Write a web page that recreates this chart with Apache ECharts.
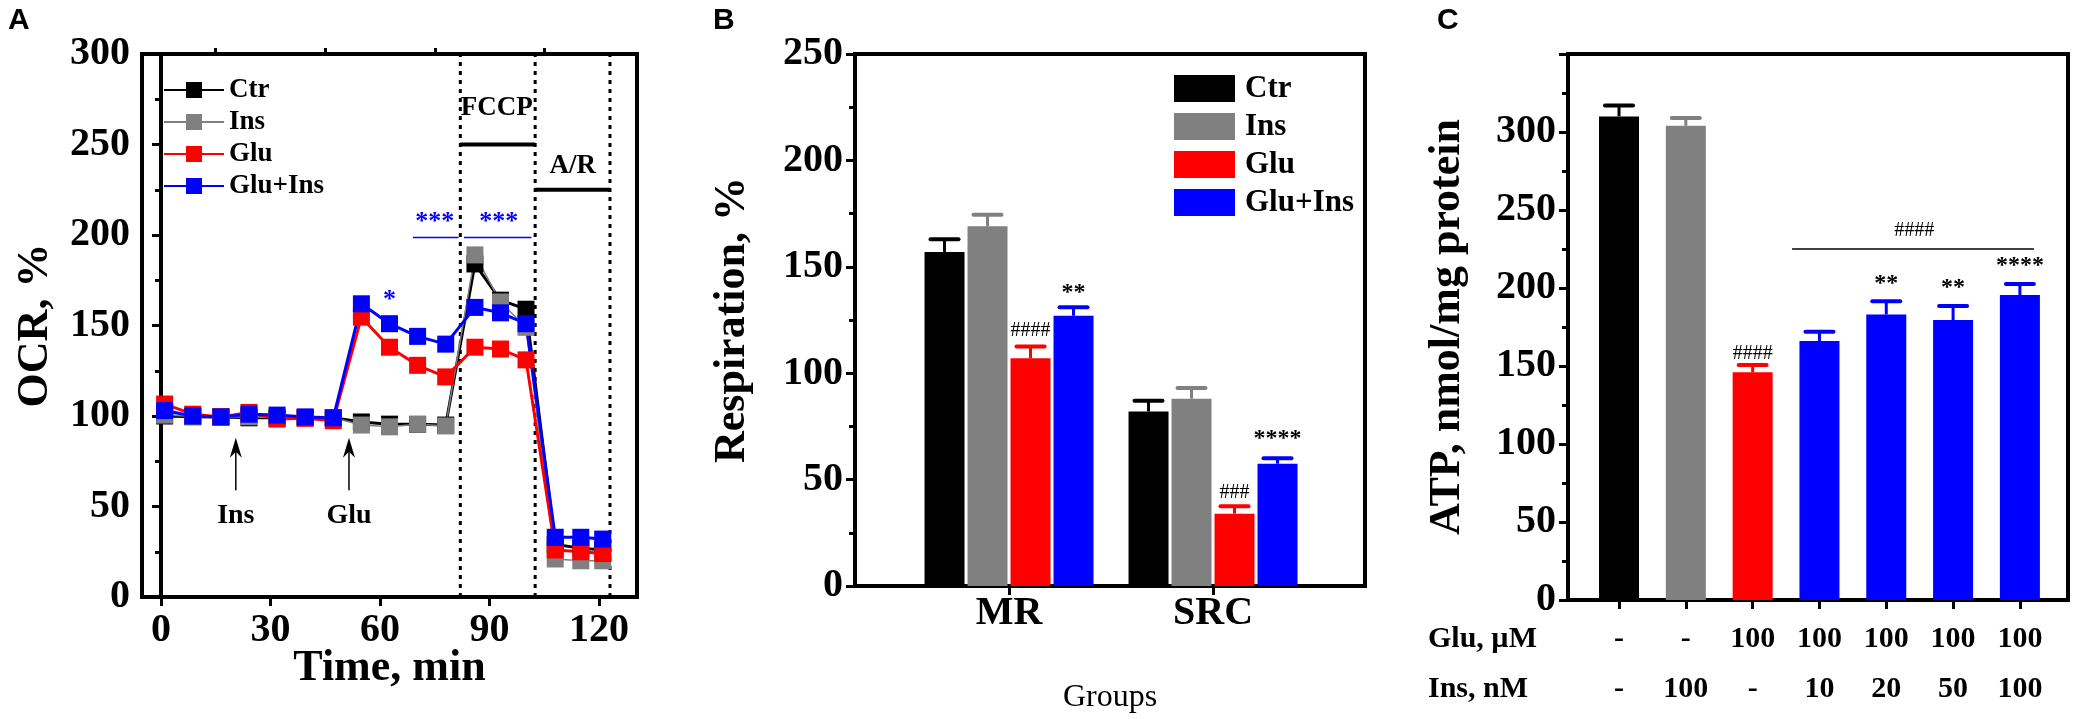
<!DOCTYPE html>
<html>
<head>
<meta charset="utf-8">
<script src="https://cdn.jsdelivr.net/npm/echarts@6/dist/echarts.min.js"></script>
</head>
<body style="margin:0;background:#fff">
<div id="main" style="width:2084px;height:719px;"></div>
<script>
// ---- panel A: OCR time course (% of baseline) ----
var timeMin  = [1, 8.7, 16.4, 24.1, 31.8, 39.5, 47.2, 54.9, 62.6, 70.3, 78, 86, 93, 100, 108, 115, 121];
var ocrCtr    = [100, 99.6, 99.5, 99, 99, 99.2, 99, 96.7, 95.5, 95.4, 95, 184, 164, 159, 29, 27, 26];
var ocrIns    = [100.5, 99.8, 99.5, 99.6, 99, 99, 99, 95, 94, 95.4, 94.5, 189, 163, 149, 21, 20, 20];
var ocrGlu    = [106.6, 101, 99.5, 102, 98.3, 98.7, 97.4, 154.6, 138, 128, 121.6, 138, 137, 131, 26, 25, 24];
var ocrGluIns = [103, 100, 99.5, 101, 100.5, 99.5, 99, 162, 151, 144, 139.7, 160, 157, 151, 33, 33, 32];
var timeTicks = [0, 30, 60, 90, 120];
var timeMinor = [15, 45, 75, 105];

// ---- panel B: respiration ----
var groups = ['MR', 'SRC'];
var resCtr = [157, 82],    errCtr = [6, 5];
var resIns = [169, 88],    errIns = [5.5, 5];
var resGlu = [107, 34],    errGlu = [5.5, 3.5];
var resGluIns = [127, 57.5], errGluIns = [4, 2.5];

// ---- panel C: ATP ----
var atpGlu = ['-', '-', '100', '100', '100', '100', '100'];
var atpIns = ['-', '100', '-', '10', '20', '50', '100'];
var atpVal = [310, 304, 146, 166, 183, 179.5, 195.5];
var atpErr = [7, 5, 4.7, 6, 8.5, 9, 7];

var SERIF = "'Liberation Serif', 'Times New Roman', serif";
var BLK = '#000000', GRY = '#808080', RED = '#ff0000', BLU = '#0000ff';
var colorsC = [BLK, GRY, RED, BLU, BLU, BLU, BLU];

var myChart = echarts.init(document.getElementById('main'));

function yAx(grid, max, name, gap) {
  return {
    type: 'value', gridIndex: grid, min: 0, max: max, interval: 50,
    axisLine: { show: true, lineStyle: { color: BLK, width: 4 } },
    axisTick: { show: true, length: 9, lineStyle: { color: BLK, width: 3 } },
    minorTick: { show: true, splitNumber: 2, length: 6, lineStyle: { color: BLK, width: 3 } },
    splitLine: { show: false },
    axisLabel: { color: BLK, fontFamily: SERIF, fontWeight: 'bold', fontSize: 40, margin: 12, showMaxLabel: max !== 350 },
    name: name, nameLocation: 'middle', nameGap: gap, nameMoveOverlap: false,
    nameTextStyle: { color: BLK, fontFamily: SERIF, fontWeight: 'bold', fontSize: 44 }
  };
}

// error bars (upward only)
function errSeries(xi, xs, tops, errs, color, offsetPx) {
  return {
    type: 'custom', xAxisIndex: xi, yAxisIndex: xi, z: 4, silent: true,
    data: xs.map(function (x, i) { return [x, tops[i], errs[i]]; }),
    renderItem: function (params, api) {
      var b = api.coord([api.value(0), api.value(1)]);
      var t = api.coord([api.value(0), api.value(1) + api.value(2)]);
      var x = b[0] + offsetPx;
      var c = typeof color === 'function' ? color(params.dataIndex) : color;
      return { type: 'group', children: [
        { type: 'line', shape: { x1: x, y1: b[1], x2: x, y2: t[1] }, style: { stroke: c, lineWidth: 3 } },
        { type: 'line', shape: { x1: x - 14, y1: t[1], x2: x + 14, y2: t[1] }, style: { stroke: c, lineWidth: 4, lineCap: 'round' } }
      ] };
    }
  };
}

// text annotations: [x, y, text, color, size, weight, offsetPx]
function textSeries(xi, items) {
  return {
    type: 'custom', xAxisIndex: xi, yAxisIndex: xi, z: 5, silent: true,
    data: items.map(function (a) { return [a[0], a[1]]; }),
    renderItem: function (params, api) {
      var a = items[params.dataIndex];
      var p = api.coord([api.value(0), api.value(1)]);
      return { type: 'text', x: p[0] + (a[6] || 0), y: p[1], style: {
        text: a[2], fill: a[3], font: (a[5] || 'bold') + ' ' + a[4] + 'px ' + SERIF,
        align: 'center', verticalAlign: 'middle' } };
    }
  };
}

// line segments: [x1, y1, x2, y2, kind]
function segSeries(xi, segs) {
  return {
    type: 'custom', xAxisIndex: xi, yAxisIndex: xi, z: 1, silent: true,
    data: segs.map(function (s) { return [s[0], s[1], s[2], s[3]]; }),
    encode: { x: [0, 2], y: [1, 3] },
    renderItem: function (params, api) {
      var s = segs[params.dataIndex];
      var p1 = api.coord([s[0], s[1]]), p2 = api.coord([s[2], s[3]]);
      var kind = s[4];
      if (kind === 'dot') {
        return { type: 'line', shape: { x1: p1[0], y1: p1[1], x2: p2[0], y2: p2[1] },
          style: { stroke: BLK, lineWidth: 3, lineDash: [4, 5] } };
      }
      if (kind === 'bar') {
        return { type: 'line', shape: { x1: p1[0], y1: p1[1], x2: p2[0], y2: p2[1] },
          style: { stroke: BLK, lineWidth: 4 } };
      }
      if (kind === 'blue') {
        return { type: 'line', shape: { x1: p1[0], y1: p1[1], x2: p2[0], y2: p2[1] },
          style: { stroke: BLU, lineWidth: 1.5 } };
      }
      if (kind === 'thin') {
        return { type: 'line', shape: { x1: p1[0], y1: p1[1], x2: p2[0], y2: p2[1] },
          style: { stroke: BLK, lineWidth: 1.5 } };
      }
      // arrow pointing up to p2
      var x = p2[0], y = p2[1];
      return { type: 'group', children: [
        { type: 'line', shape: { x1: p1[0], y1: p1[1], x2: x, y2: y + 10 }, style: { stroke: BLK, lineWidth: 1.5 } },
        { type: 'polygon', shape: { points: [[x, y], [x - 6, y + 20], [x, y + 14], [x + 6, y + 20]] }, style: { fill: BLK } }
      ] };
    }
  };
}

function lineS(name, data, color, width) {
  return {
    name: name, type: 'line', xAxisIndex: 0, yAxisIndex: 0,
    data: timeMin.map(function (t, i) { return [t, data[i]]; }),
    symbol: 'rect', symbolSize: 17, showAllSymbol: true,
    itemStyle: { color: color }, lineStyle: { color: color, width: width }
  };
}

function barS(name, vals, color) {
  return {
    name: 'B:' + name, type: 'bar', xAxisIndex: 1, yAxisIndex: 1,
    data: vals.map(function (v, i) { return [i + 1, v]; }),
    barWidth: 40, barGap: '7.5%', itemStyle: { color: color }
  };
}

var offB = [-64.5, -21.5, 21.5, 64.5];
var xsB = [1, 2];

var option = {
  animation: false,
  backgroundColor: '#fff',
  grid: [
    { left: 142, top: 54, width: 495, height: 543, show: true, borderColor: BLK, borderWidth: 4 },
    { left: 855, top: 54, width: 510, height: 543, show: true, borderColor: BLK, borderWidth: 4 },
    { left: 1568, top: 54, width: 500, height: 546, show: true, borderColor: BLK, borderWidth: 4 }
  ],
  legend: [
    {
      data: ['Ctr', 'Ins', 'Glu', 'Glu+Ins'], orient: 'vertical', left: 158, top: 71,
      itemWidth: 60, itemHeight: 20, itemGap: 4,
      textStyle: { color: BLK, fontFamily: SERIF, fontWeight: 'bold', fontSize: 27, lineHeight: 28 }
    },
    {
      data: ['B:Ctr', 'B:Ins', 'B:Glu', 'B:Glu+Ins'], orient: 'vertical', left: 1169, top: 68,
      itemWidth: 61, itemHeight: 27, itemGap: 7, icon: 'rect',
      formatter: function (n) { return n.replace('B:', ''); },
      textStyle: { color: BLK, fontFamily: SERIF, fontWeight: 'bold', fontSize: 31, lineHeight: 31, padding: [0, 0, 0, 5] }
    }
  ],
  xAxis: [
    {
      type: 'value', gridIndex: 0, min: -5.2, max: 130.4,
      axisLine: { show: true, lineStyle: { color: BLK, width: 4 } },
      axisTick: { show: true, customValues: timeTicks, length: 9, lineStyle: { color: BLK, width: 3 } },
      axisLabel: { customValues: timeTicks, color: BLK, fontFamily: SERIF, fontWeight: 'bold', fontSize: 40, margin: 14 },
      splitLine: { show: false },
      name: 'Time, min', nameLocation: 'middle', nameGap: 50, nameMoveOverlap: false,
      nameTextStyle: { color: BLK, fontFamily: SERIF, fontWeight: 'bold', fontSize: 44, verticalAlign: 'top' }
    },
    {
      type: 'value', gridIndex: 1, min: 0.245, max: 2.745,
      axisLine: { show: true, lineStyle: { color: BLK, width: 4 } },
      axisTick: { show: true, customValues: xsB, length: 9, lineStyle: { color: BLK, width: 3 } },
      axisLabel: { customValues: xsB, formatter: function (v) { return groups[v - 1]; },
        color: BLK, fontFamily: SERIF, fontWeight: 'bold', fontSize: 40, margin: 8 },
      splitLine: { show: false },
      name: 'Groups', nameLocation: 'middle', nameGap: 96, nameMoveOverlap: false,
      nameTextStyle: { color: BLK, fontFamily: SERIF, fontSize: 32, verticalAlign: 'top' }
    },
    {
      type: 'value', gridIndex: 2, min: 0.2365, max: 7.72,
      axisLine: { show: true, lineStyle: { color: BLK, width: 4 } },
      axisTick: { show: true, customValues: [1, 2, 3, 4, 5, 6, 7], length: 9, lineStyle: { color: BLK, width: 3 } },
      axisLabel: { customValues: [1, 2, 3, 4, 5, 6, 7],
        formatter: function (v) { return atpGlu[v - 1] + '\n' + atpIns[v - 1]; },
        color: BLK, fontFamily: SERIF, fontWeight: 'bold', fontSize: 30, lineHeight: 50, margin: 14 },
      splitLine: { show: false }
    },
    {
      // minor ticks for panel A time axis
      type: 'value', gridIndex: 0, min: -5.2, max: 130.4,
      axisLine: { show: false },
      axisTick: { show: true, customValues: timeMinor, length: 6, lineStyle: { color: BLK, width: 3 } },
      axisLabel: { show: false }, splitLine: { show: false }
    }
  ],
  yAxis: [
    yAx(0, 300, 'OCR, %', 84),
    yAx(1, 250, 'Respiration, %', 100),
    yAx(2, 350, 'ATP, nmol/mg protein', 98)
  ],
  graphic: [
    { type: 'text', left: 8, top: 6, style: { text: 'A', font: "bold 30px 'Liberation Sans', Arial, sans-serif", fill: BLK } },
    { type: 'text', left: 713, top: 6, style: { text: 'B', font: "bold 30px 'Liberation Sans', Arial, sans-serif", fill: BLK } },
    { type: 'text', left: 1437, top: 6, style: { text: 'C', font: "bold 30px 'Liberation Sans', Arial, sans-serif", fill: BLK } },
    { type: 'text', left: 1428, top: 624, style: { text: 'Glu, µM', font: 'bold 30px ' + SERIF, fill: BLK } },
    { type: 'text', left: 1428, top: 674, style: { text: 'Ins, nM', font: 'bold 30px ' + SERIF, fill: BLK } }
  ],
  series: [
    segSeries(0, [
      [82, 0, 82, 300, 'dot'], [102.5, 0, 102.5, 300, 'dot'], [123, 0, 123, 300, 'dot'],
      [82, 250, 102.5, 250, 'bar'], [102.5, 225, 123, 225, 'bar'],
      [69, 198.6, 81.5, 198.6, 'blue'], [83, 198.6, 101.5, 198.6, 'blue'],
      [20.5, 59, 20.5, 88, 'arrow'], [51.5, 59, 51.5, 88, 'arrow']
    ]),
    lineS('Ctr', ocrCtr, BLK, 3),
    lineS('Ins', ocrIns, GRY, 1.5),
    lineS('Glu', ocrGlu, RED, 3),
    lineS('Glu+Ins', ocrGluIns, BLU, 3),
    textSeries(0, [
      [92, 270, 'FCCP', BLK, 27], [112.8, 238, 'A/R', BLK, 27],
      [75, 207, '***', BLU, 26], [92.5, 207, '***', BLU, 26], [62.6, 164, '*', BLU, 26],
      [20.5, 45, 'Ins', BLK, 28], [51.5, 45, 'Glu', BLK, 28]
    ]),

    barS('Ctr', resCtr, BLK),
    barS('Ins', resIns, GRY),
    barS('Glu', resGlu, RED),
    barS('Glu+Ins', resGluIns, BLU),
    errSeries(1, xsB, resCtr, errCtr, BLK, offB[0]),
    errSeries(1, xsB, resIns, errIns, GRY, offB[1]),
    errSeries(1, xsB, resGlu, errGlu, RED, offB[2]),
    errSeries(1, xsB, resGluIns, errGluIns, BLU, offB[3]),
    textSeries(1, [
      [1, 120, '####', BLK, 20, 'normal', offB[2]],
      [1, 138, '**', BLK, 24, 'bold', offB[3]],
      [2, 44, '###', BLK, 20, 'normal', offB[2]],
      [2, 69, '****', BLK, 24, 'bold', offB[3]]
    ]),

    {
      name: 'ATP', type: 'bar', xAxisIndex: 2, yAxisIndex: 2, barWidth: 40,
      data: atpVal.map(function (v, i) { return [i + 1, v]; }),
      itemStyle: { color: function (p) { return colorsC[p.dataIndex]; } }
    },
    errSeries(2, [1, 2, 3, 4, 5, 6, 7], atpVal, atpErr, function (i) { return colorsC[i]; }, 0),
    segSeries(2, [[3.59, 225, 7.21, 225, 'thin']]),
    textSeries(2, [
      [3, 158, '####', BLK, 20, 'normal'],
      [5.42, 237, '####', BLK, 20, 'normal'],
      [5, 203, '**', BLK, 24, 'bold'],
      [6, 200, '**', BLK, 24, 'bold'],
      [7, 214, '****', BLK, 24, 'bold']
    ])
  ]
};

myChart.setOption(option);
</script>
</body>
</html>
